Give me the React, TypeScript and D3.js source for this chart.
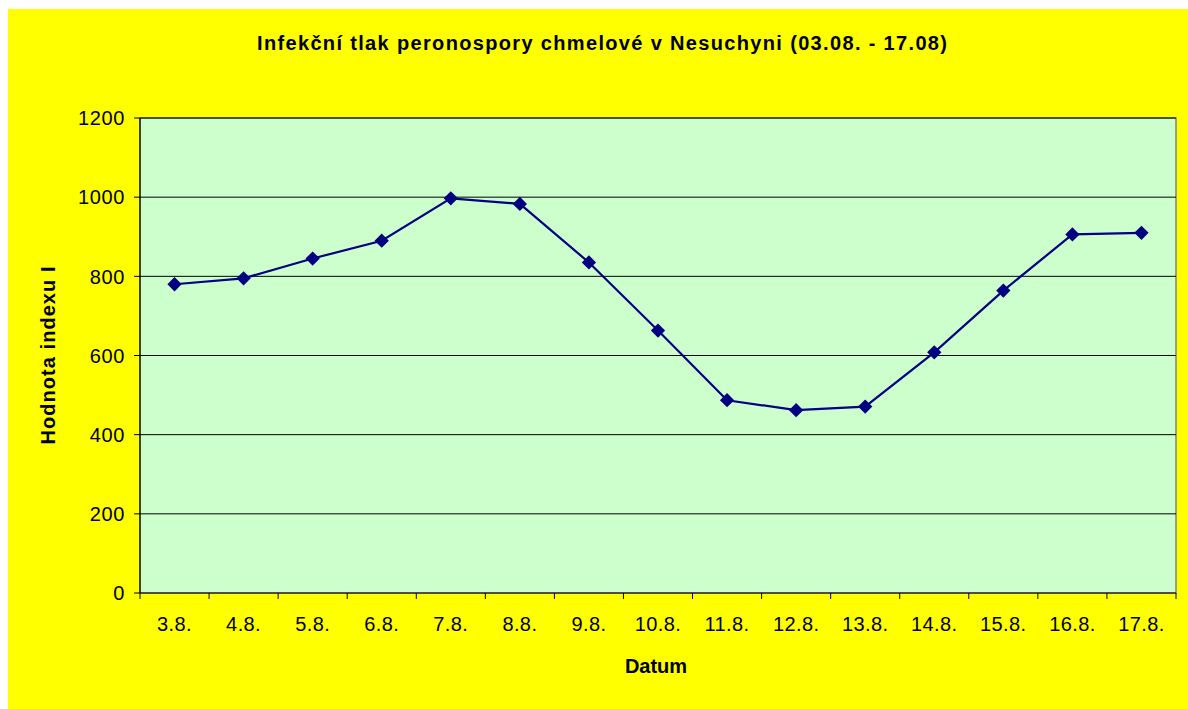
import * as React from "react";
import * as d3 from "d3";

const dates = ["3.8.", "4.8.", "5.8.", "6.8.", "7.8.", "8.8.", "9.8.", "10.8.", "11.8.", "12.8.", "13.8.", "14.8.", "15.8.", "16.8.", "17.8."];
const indexValues = [780, 795, 845, 890, 997, 983, 835, 663, 487, 462, 471, 608, 764, 906, 910];
const yTicks = [0, 200, 400, 600, 800, 1000, 1200];

const title = "Infekční tlak peronospory chmelové v Nesuchyni (03.08. - 17.08)";

const App = () => {
  const width = 1188;
  const height = 709;
  const left = 140;
  const right = 1176;
  const top = 118;
  const bottom = 593;
  const font = "Arial, 'Liberation Sans', sans-serif";

  const x = d3.scaleBand<string>().domain(dates).range([left, right]);
  const y = d3.scaleLinear().domain([0, 1200]).range([bottom, top]);

  const line = d3
    .line<number>()
    .x((d, i) => x(dates[i])! + x.bandwidth() / 2)
    .y(d => y(d));

  const diamond = d3.symbol().type(d3.symbolDiamond2).size(130)();

  return (
    <svg width={width} height={height} style={{ position: "absolute", left: 0, top: 0 }}>
      <rect x={0} y={0} width={width} height={height} fill="#ffffff" />
      <rect x={8} y={9} width={width - 8} height={height - 9} fill="#ffff00" />

      <text x={602} y={50} textAnchor="middle" fontFamily={font} fontWeight="bold" fontSize={20}
        textLength={690} lengthAdjust="spacing">
        {title}
      </text>

      {/* plot area */}
      <rect x={left} y={top} width={right - left} height={bottom - top} fill="#ccffcc" stroke="#808080" strokeWidth={1.5} />

      {yTicks.filter(t => t > 0).map(t => (
        <line key={t} x1={left} x2={right} y1={y(t)} y2={y(t)} stroke="#000" strokeWidth={1} />
      ))}

      {/* axes */}
      <line x1={left} x2={left} y1={top} y2={bottom} stroke="#000" strokeWidth={1.2} />
      <line x1={left} x2={right} y1={bottom} y2={bottom} stroke="#000" strokeWidth={1.2} />

      {yTicks.map(t => (
        <g key={t}>
          <line x1={left - 6} x2={left} y1={y(t)} y2={y(t)} stroke="#000" />
          <text x={125} y={y(t)} dy="0.36em" textAnchor="end" fontFamily={font} fontSize={20} letterSpacing={0.6}>
            {t}
          </text>
        </g>
      ))}

      {dates.map((d, i) => (
        <line key={"t" + i} x1={x(d)!} x2={x(d)!} y1={bottom} y2={bottom + 6} stroke="#000" />
      ))}
      <line x1={right} x2={right} y1={bottom} y2={bottom + 6} stroke="#000" />

      {dates.map(d => (
        <text key={d} x={x(d)! + x.bandwidth() / 2} y={631} textAnchor="middle" fontFamily={font} fontSize={20} letterSpacing={0.4}>
          {d}
        </text>
      ))}

      <text x={656} y={673} textAnchor="middle" fontFamily={font} fontWeight="bold" fontSize={20}>
        Datum
      </text>
      <text transform={`translate(55, ${(top + bottom) / 2}) rotate(-90)`} textAnchor="middle" fontFamily={font}
        fontWeight="bold" fontSize={20} textLength={178} lengthAdjust="spacing">
        Hodnota indexu I
      </text>

      <path d={line(indexValues) ?? ""} fill="none" stroke="#000080" strokeWidth={2.2} />
      {indexValues.map((v, i) => (
        <path key={i} d={diamond ?? ""} transform={`translate(${x(dates[i])! + x.bandwidth() / 2},${y(v)})`} fill="#000080" />
      ))}
    </svg>
  );
};

export default App;
